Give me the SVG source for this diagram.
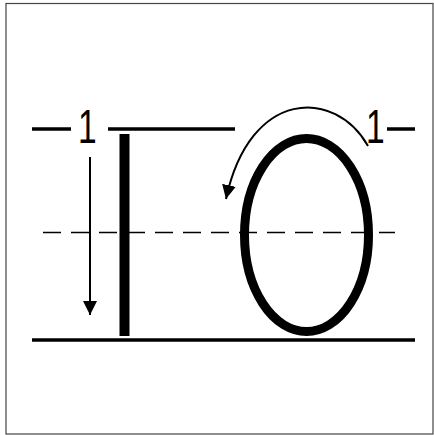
<svg xmlns="http://www.w3.org/2000/svg" width="434" height="435" viewBox="0 0 434 435">
<style>
.guide{stroke:#000;stroke-width:3.5;fill:none}
.dash{stroke:#000;stroke-width:1.5;fill:none;stroke-dasharray:18 10}
.arrow{stroke:#000;stroke-width:2;fill:none}
.num{font-family:"Liberation Sans",Arial,sans-serif;font-size:48px;fill:#000}
</style>
<defs>
<marker id="ah" markerUnits="userSpaceOnUse" markerWidth="16" markerHeight="16" viewBox="0 0 16 16" refX="14" refY="8" orient="auto">
<path d="M0,1 L14,8 L0,15 Z" fill="#000"/>
</marker>
</defs>
<rect x="6" y="3.5" width="427" height="430.5" fill="#fff" stroke="#444" stroke-width="1.2"/>
<g id="guides">
<line class="guide" x1="32" y1="129" x2="71" y2="129"/>
<line class="guide" x1="108" y1="129" x2="235" y2="129"/>
<line class="guide" x1="387" y1="129" x2="415" y2="129"/>
<line class="guide" x1="32" y1="340" x2="415" y2="340"/>
<line class="dash" x1="43" y1="232.5" x2="395" y2="232.5"/>
</g>
<g id="letter-I">
<rect x="119.5" y="134" width="10" height="202" fill="#000"/>
</g>
<g id="letter-O">
<ellipse cx="306.5" cy="235" rx="62" ry="96.5" fill="none" stroke="#000" stroke-width="9"/>
</g>
<g id="labels">
<text class="num" transform="translate(78,143) scale(0.7,1)">1</text>
<text class="num" transform="translate(366,143) scale(0.7,1)">1</text>
</g>
<g id="connectors">
<line class="arrow" x1="90" y1="157" x2="90" y2="315" marker-end="url(#ah)"/>
<path class="arrow" d="M368,146 C335,88 250,88 226,199" marker-end="url(#ah)"/>
</g>
</svg>
